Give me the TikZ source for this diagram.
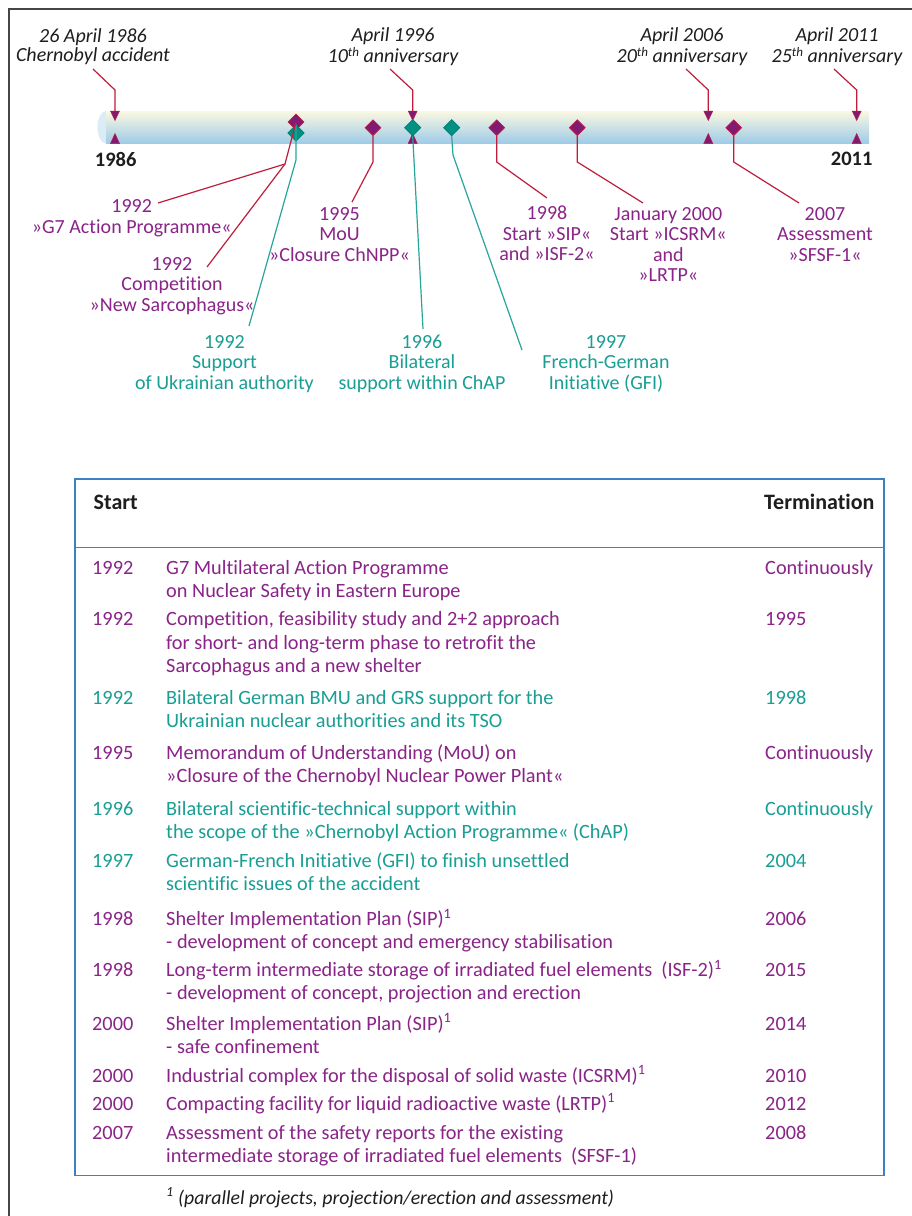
\documentclass[tikz,border=0pt]{standalone}
\usepackage{fontspec}
\setmainfont{Carlito}[Ligatures={NoCommon}]
\usetikzlibrary{shapes.geometric}
\definecolor{purp}{RGB}{138,36,136}
\definecolor{tealtx}{RGB}{25,158,148}
\definecolor{tealln}{RGB}{40,165,155}
\definecolor{redln}{RGB}{190,30,60}
\definecolor{dfill}{RGB}{130,25,115}
\definecolor{tfill}{RGB}{0,145,130}
\definecolor{tblue}{RGB}{60,130,195}
\definecolor{framec}{RGB}{70,70,70}
\definecolor{cream}{RGB}{250,248,226}
\definecolor{barmid}{RGB}{205,228,238}
\definecolor{barblue}{RGB}{158,203,232}
\definecolor{capblue}{RGB}{218,236,245}
\definecolor{darktx}{RGB}{30,30,30}
\newcommand\lblfont{\fontsize{20}{20.4}\selectfont}
\newcommand\annfont{\fontsize{20}{19}\selectfont\itshape}
\newcommand\annfontb{\fontsize{20}{20.5}\selectfont\itshape}
\newcommand\tblfont{\fontsize{20.3}{23.3}\selectfont}
\newcommand\tstrut{\rule{0pt}{18pt}}
\newcommand\supth{\smash{\raisebox{6pt}{\fontsize{13}{13}\selectfont th}}}
\begin{document}
\begin{tikzpicture}[x=1pt,y=-1pt,
  lbl/.style={font=\lblfont, align=center, inner sep=0pt, anchor=north},
  plbl/.style={lbl, text=purp},
  tlbl/.style={lbl, text=tealtx},
  ann/.style={font=\annfont, align=center, inner sep=0pt, anchor=north, text=darktx},
  annb/.style={ann, font=\annfontb},
  yearlbl/.style={font=\fontsize{20.5}{21}\selectfont\bfseries, inner sep=0pt, text=darktx},
  rline/.style={draw=redln, line width=1.2pt},
  tline/.style={draw=tealln, line width=1.2pt},
  pdia/.style={diamond, draw=redln, fill=dfill, inner sep=0pt, minimum width=16, minimum height=16, line width=0.8pt},
  tdia/.style={diamond, draw=tfill!85!black, fill=tfill, inner sep=0pt, minimum width=16.5, minimum height=16.5, line width=0.6pt},
  tri/.style={fill=dfill, draw=redln, line width=0.5pt},
  cell/.style={font=\tblfont, align=left, inner sep=0pt, anchor=north west},
  pcell/.style={cell, text=purp},
  tcell/.style={cell, text=tealtx},
  hcell/.style={cell, font=\fontsize{22}{23}\selectfont\bfseries, text=darktx}
]
\useasboundingbox (0,0) rectangle (912,1216);
\fill[white] (0,0) rectangle (912,1216);
% outer frame (left and top edges)
\draw[framec, line width=1.6pt] (9,1216) -- (9,9) -- (912,9);

% ---------- timeline bar ----------
\fill[capblue] (106,127.3) ellipse [x radius=8.5, y radius=16.2];
\shade[top color=cream, middle color=barmid, bottom color=barblue] (106,111) rectangle (869,143.5);

% anniversary markers
\foreach \x/\n in {115/t86, 412.7/t96, 708.3/t06, 856.7/t11}{
  \fill[tri] (\x-4.5,111) -- (\x+4.5,111) -- (\x,120.5) -- cycle;
  \fill[tri] (\x-4.5,143.5) -- (\x+4.5,143.5) -- (\x,133.5) -- cycle;
  \coordinate (\n) at (\x,111);
}

% diamonds
\node[pdia] (pd92) at (296,122) {};
\node[tdia] (td92) at (296,133) {};
\node[pdia] (pd95) at (373,127.7) {};
\node[tdia] (td96) at (412.7,127.7) {};
\node[tdia] (td97) at (451.7,127.7) {};
\node[pdia] (pd98) at (496.7,127.7) {};
\node[pdia] (pd00) at (577.3,127.7) {};
\node[pdia] (pd07) at (733.7,127.7) {};

% year labels
\node[yearlbl] (y86) at (115.7,159) {1986};
\node[yearlbl] (y11) at (851.7,159) {2011};

% ---------- top annotations ----------
\node[ann] (a86) at (93,24.5) {\tstrut 26 April 1986\\Chernobyl accident};
\node[annb] (a96) at (393,23.5) {\tstrut April 1996\\10\supth{} anniversary};
\node[annb] (a06) at (682,23.5) {\tstrut April 2006\\20\supth{} anniversary};
\node[annb] (a11) at (837,23.5) {\tstrut April 2011\\25\supth{} anniversary};

\coordinate (s86) at (93,69);
\coordinate (s96) at (390,69);
\coordinate (s06) at (686,69);
\coordinate (s11) at (834,69);
\coordinate (k86) at (115,90);
\coordinate (k96) at (412.7,90);
\coordinate (k06) at (708.3,90);
\coordinate (k11) at (856.7,90);
\draw[rline] (s86) -- (k86) -- (t86);
\draw[rline] (s96) -- (k96) -- (t96);
\draw[rline] (s06) -- (k06) -- (t06);
\draw[rline] (s11) -- (k11) -- (t11);

% ---------- lower labels ----------
\node[plbl] (lg7) at (131.7,194.5) {\tstrut 1992\\»G7 Action Programme«};
\node[plbl] (lcomp) at (172,252) {\tstrut 1992\\Competition\\»New Sarcophagus«};
\node[tlbl] (lsup) at (224.5,330) {\tstrut 1992\\Support\\of Ukrainian authority};
\node[plbl] (lmou) at (339.5,202) {\tstrut 1995\\MoU\\»Closure ChNPP«};
\node[tlbl] (lbil) at (422,330) {\tstrut 1996\\Bilateral\\support within ChAP};
\node[tlbl] (lgfi) at (606,330) {\tstrut 1997\\French-German\\Initiative (GFI)};
\node[plbl] (lsip) at (547,201.5) {\tstrut 1998\\Start »SIP«\\and »ISF-2«};
\node[plbl] (lics) at (668.3,202) {\tstrut January 2000\\Start »ICSRM«\\and\\»LRTP«};
\node[plbl] (lass) at (825,202) {\tstrut 2007\\Assessment\\»SFSF-1«};

% connector bends and ends
\coordinate (j92) at (285,164);
\coordinate (e92a) at (158,203);
\coordinate (e92b) at (207,267);
\coordinate (b92t) at (296,160);
\coordinate (e92t) at (249,326);
\coordinate (b95) at (373,162);
\coordinate (e95) at (352,202);
\coordinate (e96) at (423,329);
\coordinate (b97) at (453,155);
\coordinate (e97) at (522,350);
\coordinate (b98) at (496.7,162);
\coordinate (e98) at (547,198);
\coordinate (b00) at (577.3,162);
\coordinate (e00) at (643,203);
\coordinate (b07) at (733.7,162);
\coordinate (e07) at (799,203);

\draw[tline] (td92.north) -- (b92t) -- (e92t);
\draw[rline] (pd92.center) -- (j92) -- (e92a);
\draw[rline] (j92) -- (e92b);
\draw[rline] (pd95.south) -- (b95) -- (e95);
\draw[tline] (td96.south) -- (e96);
\draw[tline] (td97.south) -- (b97) -- (e97);
\draw[rline] (pd98.south) -- (b98) -- (e98);
\draw[rline] (pd00.south) -- (b00) -- (e00);
\draw[rline] (pd07.south) -- (b07) -- (e07);

% ---------- table ----------
\draw[tblue, line width=1.3pt] (75,479) rectangle (884,1175.5);
\draw[tblue, line width=1.3pt] (75,547.3) -- (884,547.3);

\node[hcell] (hstart) at (93.5,491) {\tstrut Start};
\node[hcell] (hterm) at (764,491) {\tstrut Termination};

\node[pcell] (y1) at (92,555.8) {\tstrut 1992};
\node[pcell] (d1) at (166,555.8) {\tstrut G7 Multilateral Action Programme\\on Nuclear Safety in Eastern Europe};
\node[pcell] (t1) at (765,555.8) {\tstrut Continuously};

\node[pcell] (y2) at (92,607.6) {\tstrut 1992};
\node[pcell] (d2) at (166,607.6) {\tstrut Competition, feasibility study and 2+2 approach\\for short- and long-term phase to retrofit the\\Sarcophagus and a new shelter};
\node[pcell] (t2) at (765,607.6) {\tstrut 1995};

\node[tcell] (y3) at (92,685.8) {\tstrut 1992};
\node[tcell] (d3) at (166,685.8) {\tstrut Bilateral German BMU and GRS support for the\\Ukrainian nuclear authorities and its TSO};
\node[tcell] (t3) at (765,685.8) {\tstrut 1998};

\node[pcell] (y4) at (92,740.8) {\tstrut 1995};
\node[pcell] (d4) at (166,740.8) {\tstrut Memorandum of Understanding (MoU) on\\»Closure of the Chernobyl Nuclear Power Plant«};
\node[pcell] (t4) at (765,740.8) {\tstrut Continuously};

\node[tcell] (y5) at (92,797.4) {\tstrut 1996};
\node[tcell] (d5) at (166,797.4) {\tstrut Bilateral scientific-technical support within\\the scope of the »Chernobyl Action Programme« (ChAP)};
\node[tcell] (t5) at (765,797.4) {\tstrut Continuously};

\node[tcell] (y6) at (92,849.1) {\tstrut 1997};
\node[tcell] (d6) at (166,849.1) {\tstrut German-French Initiative (GFI) to finish unsettled\\scientific issues of the accident};
\node[tcell] (t6) at (765,849.1) {\tstrut 2004};

\node[pcell] (y7) at (92,907.4) {\tstrut 1998};
\node[pcell] (d7) at (166,907.4) {\tstrut Shelter Implementation Plan (SIP)\textsuperscript{1}\\- development of concept and emergency stabilisation};
\node[pcell] (t7) at (765,907.4) {\tstrut 2006};

\node[pcell] (y8) at (92,958.4) {\tstrut 1998};
\node[pcell] (d8) at (166,958.4) {\tstrut Long-term intermediate storage of irradiated fuel elements\ \ (ISF-2)\textsuperscript{1}\\- development of concept, projection and erection};
\node[pcell] (t8) at (765,958.4) {\tstrut 2015};

\node[pcell] (y9) at (92,1011.8) {\tstrut 2000};
\node[pcell] (d9) at (166,1011.8) {\tstrut Shelter Implementation Plan (SIP)\textsuperscript{1}\\- safe confinement};
\node[pcell] (t9) at (765,1011.8) {\tstrut 2014};

\node[pcell] (y10) at (92,1064.1) {\tstrut 2000};
\node[pcell] (d10) at (166,1064.1) {\tstrut Industrial complex for the disposal of solid waste (ICSRM)\textsuperscript{1}};
\node[pcell] (t10) at (765,1064.1) {\tstrut 2010};

\node[pcell] (y11r) at (92,1091.8) {\tstrut 2000};
\node[pcell] (d11) at (166,1091.8) {\tstrut Compacting facility for liquid radioactive waste (LRTP)\textsuperscript{1}};
\node[pcell] (t11r) at (765,1091.8) {\tstrut 2012};

\node[pcell] (y12) at (92,1120.8) {\tstrut 2007};
\node[pcell] (d12) at (166,1120.8) {\tstrut Assessment of the safety reports for the existing\\intermediate storage of irradiated fuel elements\ \ (SFSF-1)};
\node[pcell] (t12) at (765,1120.8) {\tstrut 2008};

\node[cell, font=\fontsize{19.8}{20}\selectfont\itshape, text=darktx] (fn) at (166,1185.8) {\tstrut\textsuperscript{1} (parallel projects, projection/erection and assessment)};
\end{tikzpicture}
\end{document}
